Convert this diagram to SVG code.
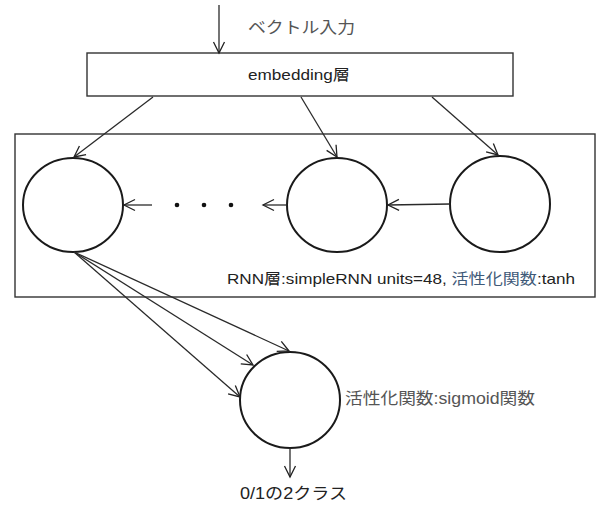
<svg xmlns="http://www.w3.org/2000/svg" width="600" height="507" viewBox="0 0 600 507">
  <defs>
    <marker id="arrow" markerUnits="userSpaceOnUse" markerWidth="14" markerHeight="14" viewBox="0 0 14 14" refX="12" refY="7" orient="auto">
      <path d="M1,1.5 L12,7 L1,12.5" fill="none" stroke="#222" stroke-width="1.3"/>
    </marker>
    <style>
      .box { fill: #fff; stroke: #333; stroke-width: 1.4; }
      .unit { fill: #fff; stroke: #1a1a1a; stroke-width: 2; }
      .link { stroke: #2a2a2a; stroke-width: 1.3; fill: none; marker-end: url(#arrow); }
      .dot { fill: #111; }
      text { font-family: "Liberation Sans", "Noto Sans CJK JP", sans-serif; fill: #222; }
      .lbl { fill: #555; }
      .blue { fill: #3f5a78; }
    </style>
  </defs>

  <!-- input label -->
  <g id="input-label">
    <text x="248" y="33" font-size="16" class="lbl" textLength="107" lengthAdjust="spacingAndGlyphs">ベクトル入力</text>
  </g>

  <!-- embedding layer -->
  <g id="embedding">
    <rect class="box" x="87" y="53" width="426" height="43"/>
    <text x="248" y="80" font-size="15" textLength="102" lengthAdjust="spacingAndGlyphs">embedding層</text>
  </g>

  <!-- RNN layer frame -->
  <g id="rnn-layer">
    <rect class="box" x="15" y="134" width="580" height="163"/>
    <text x="227" y="284" font-size="15" textLength="348" lengthAdjust="spacingAndGlyphs">RNN層:simpleRNN units=48, <tspan class="blue">活性化関数</tspan>:tanh</text>
  </g>

  <!-- recurrent units -->
  <g id="rnn-unit-1">
    <ellipse class="unit" cx="73" cy="205" rx="50" ry="47"/>
  </g>
  <g id="rnn-unit-2">
    <ellipse class="unit" cx="337" cy="205" rx="50" ry="47"/>
  </g>
  <g id="rnn-unit-3">
    <ellipse class="unit" cx="500" cy="204" rx="50" ry="48"/>
  </g>

  <!-- ellipsis between units -->
  <g id="ellipsis">
    <circle class="dot" cx="177" cy="205" r="2.3"/>
    <circle class="dot" cx="204" cy="205" r="2.3"/>
    <circle class="dot" cx="231" cy="205" r="2.3"/>
  </g>

  <!-- output unit -->
  <g id="output-unit">
    <ellipse class="unit" cx="290" cy="400" rx="50" ry="48"/>
    <text x="345" y="404" font-size="16" class="lbl" textLength="190" lengthAdjust="spacingAndGlyphs">活性化関数:sigmoid関数</text>
  </g>

  <g id="output-label">
    <text x="240" y="499" font-size="16" textLength="107" lengthAdjust="spacingAndGlyphs">0/1の2クラス</text>
  </g>

  <!-- connectors -->
  <g id="connectors">
    <line class="link" x1="219" y1="5" x2="219" y2="53"/>
    <line class="link" x1="153" y1="97" x2="74" y2="157"/>
    <line class="link" x1="301" y1="97" x2="337" y2="157"/>
    <line class="link" x1="432" y1="97" x2="498" y2="155"/>
    <line class="link" x1="450" y1="204" x2="388" y2="205"/>
    <line class="link" x1="287" y1="205" x2="263" y2="205"/>
    <line class="link" x1="152" y1="205" x2="124" y2="205"/>
    <line class="link" x1="74" y1="252" x2="289" y2="351"/>
    <line class="link" x1="74" y1="252" x2="253" y2="365"/>
    <line class="link" x1="74" y1="252" x2="240" y2="397"/>
    <line class="link" x1="290" y1="448" x2="290" y2="477"/>
  </g>
</svg>
